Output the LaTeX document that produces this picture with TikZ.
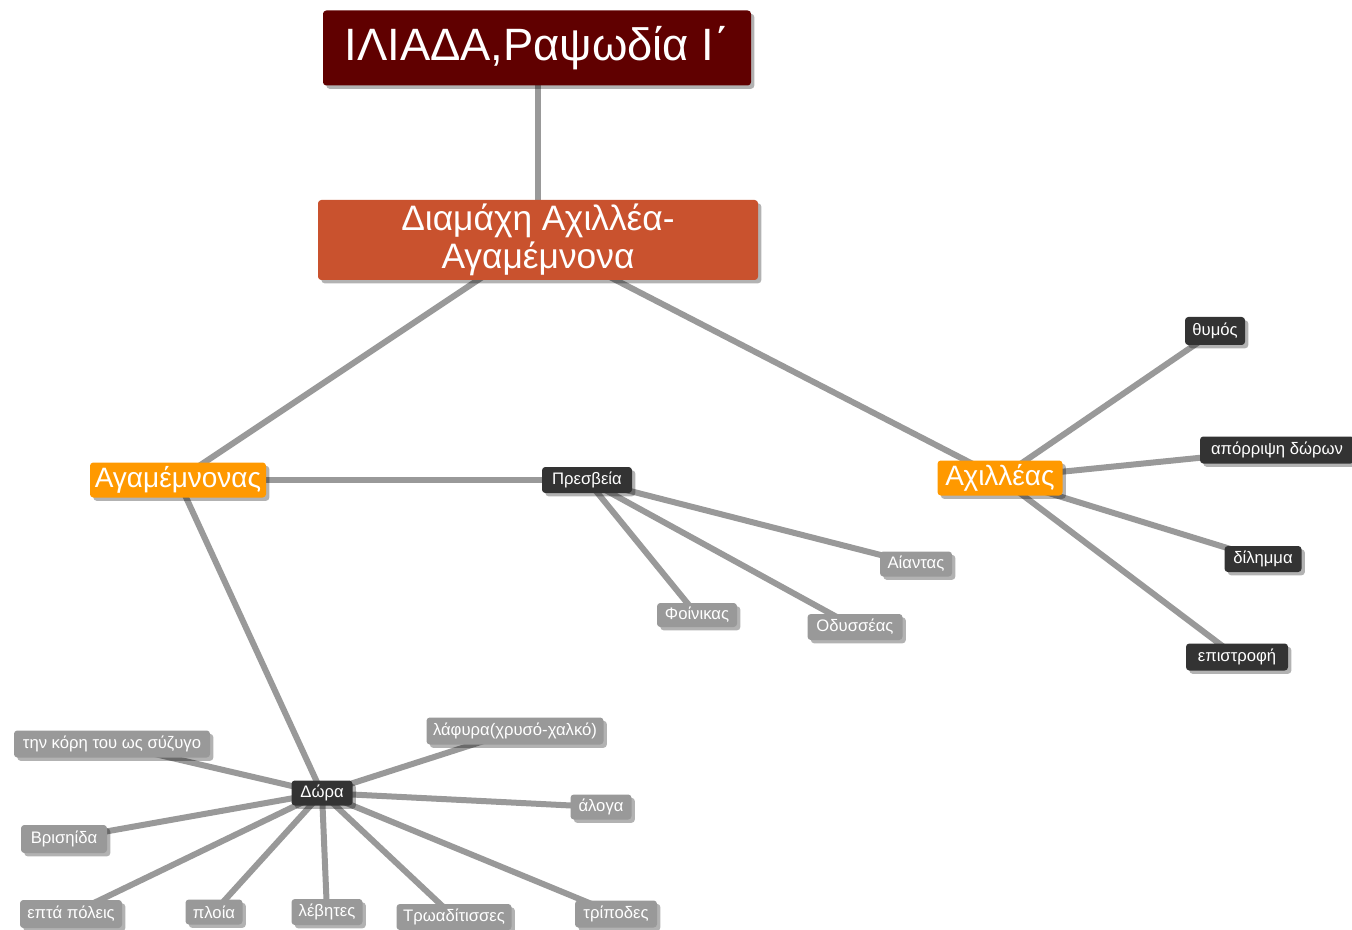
\documentclass[tikz,border=0pt]{standalone}
\usepackage{fontspec}
\setmainfont{Liberation Sans}
\usetikzlibrary{shadows,backgrounds}
\definecolor{titlered}{HTML}{600000}
\definecolor{rust}{HTML}{C9522E}
\definecolor{orng}{HTML}{FF9900}
\definecolor{darkbox}{HTML}{333333}
\definecolor{leafgray}{HTML}{999999}
\definecolor{edgegray}{HTML}{999999}
\tikzset{
  sz/.style 2 args={minimum width={#1*0.75pt}, minimum height={#2*0.75pt}},
  base/.style={inner sep=0pt, rounded corners=2.5pt, text=white, align=center,
     drop shadow={shadow xshift=2.5pt, shadow yshift=-2.5pt, fill=black, opacity=0.3}},
  titlebox/.style={base, fill=titlered, font=\fontsize{34}{38}\selectfont},
  mainbox/.style={base, fill=rust, font=\fontsize{26.5}{28}\selectfont},
  orbox/.style={base, fill=orng, font=\fontsize{21}{24}\selectfont},
  dkbox/.style={base, fill=darkbox, font=\fontsize{12.5}{14}\selectfont},
  lfbox/.style={base, fill=leafgray, font=\fontsize{12.5}{14}\selectfont},
  edge/.style={draw=edgegray, line width=4.5pt}
}
\begin{document}
\begin{tikzpicture}[x=0.75pt, y=-0.75pt]
\useasboundingbox (0,0) rectangle (1352,930);
% main nodes
\node[titlebox, sz={428}{75}] (title) at (537,48) {ΙΛΙΑΔΑ,Ραψωδία Ι΄};
\node[mainbox, sz={440}{80}] (diam) at (538,240) {Διαμάχη Αχιλλέα-\\Αγαμέμνονα};
\node[orbox, sz={176}{35}] (agam) at (178,480) {Αγαμέμνονας};
\node[orbox, sz={125}{35}] (achil) at (1000,478) {Αχιλλέας};
% Presveia
\node[dkbox, sz={90}{26}] (presv) at (587,480) {Πρεσβεία};
\node[lfbox, sz={72}{25}] (aias) at (916,564) {Αίαντας};
\node[lfbox, sz={80}{24}] (foin) at (697,615) {Φοίνικας};
\node[lfbox, sz={95}{26}] (odys) at (855,627) {Οδυσσέας};
% Achilleas children
\node[dkbox, sz={60}{28}] (thym) at (1215,331) {θυμός};
\node[dkbox, sz={154}{27}] (aporr) at (1277,450) {απόρριψη δώρων};
\node[dkbox, sz={77}{26}] (dil) at (1263,559) {δίλημμα};
\node[dkbox, sz={102}{27}] (epis) at (1237,657) {επιστροφή};
% Dora
\node[dkbox, sz={61}{25}] (dora) at (322,793) {Δώρα};
\node[lfbox, sz={196}{27}] (kori) at (112,744) {την κόρη του ως σύζυγο};
\node[lfbox, sz={86}{28}] (bris) at (64,839) {Βρισηίδα};
\node[lfbox, sz={102}{28}] (epta) at (71,914) {επτά πόλεις};
\node[lfbox, sz={57}{25}] (ploia) at (214,912) {πλοία};
\node[lfbox, sz={71}{26}] (levi) at (327,912) {λέβητες};
\node[lfbox, sz={115}{26}] (troa) at (454,917) {Τρωαδίτισσες};
\node[lfbox, sz={82}{27}] (trip) at (616,914) {τρίποδες};
\node[lfbox, sz={61}{25}] (alog) at (601,807) {άλογα};
\node[lfbox, sz={177}{27}] (lafy) at (515,731) {λάφυρα(χρυσό-χαλκό)};
% edges
\begin{scope}[on background layer]
\fill[white] (0,0) rectangle (1352,930);
\draw[edge] (title.center -| diam.center) -- (diam.center);
\draw[edge] (diam.center) -- (agam.center);
\draw[edge] (diam.center) -- (achil.center);
\draw[edge] (agam.center) -- (presv.center);
\draw[edge] (agam.center) -- (dora.center);
\foreach \n in {aias,foin,odys} \draw[edge] (presv.center) -- (\n.center);
\foreach \n in {thym,aporr,dil,epis} \draw[edge] (achil.center) -- (\n.center);
\foreach \n in {kori,bris,epta,ploia,levi,troa,trip,alog,lafy} \draw[edge] (dora.center) -- (\n.center);
\end{scope}
\end{tikzpicture}
\end{document}
